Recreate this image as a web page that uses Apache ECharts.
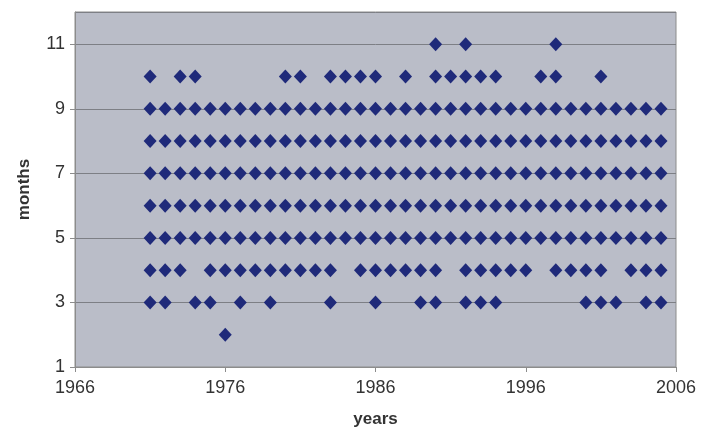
<!DOCTYPE html>
<html><head><meta charset="utf-8">
<script src="https://cdn.jsdelivr.net/npm/echarts@6/dist/echarts.min.js"></script>
<style>html,body{margin:0;padding:0;background:#fff}#c{width:704px;height:434px}</style>
</head><body><div id="c"></div>
<script>
const yearsMonth2 = [1976];
const yearsMonth3 = [1971,1972,1974,1975,1977,1979,1983,1986,1989,1990,1992,1993,1994,2000,2001,2002,2004,2005];
const yearsMonth4 = [1971,1972,1973,1975,1976,1977,1978,1979,1980,1981,1982,1983,1985,1986,1987,1988,1989,1990,1992,1993,1994,1995,1996,1998,1999,2000,2001,2003,2004,2005];
const allYears = [1971,1972,1973,1974,1975,1976,1977,1978,1979,1980,1981,1982,1983,1984,1985,1986,1987,1988,1989,1990,1991,1992,1993,1994,1995,1996,1997,1998,1999,2000,2001,2002,2003,2004,2005];
const yearsMonth5 = allYears, yearsMonth6 = allYears, yearsMonth7 = allYears, yearsMonth8 = allYears, yearsMonth9 = allYears;
const yearsMonth10 = [1971,1973,1974,1980,1981,1983,1984,1985,1986,1988,1990,1991,1992,1993,1994,1997,1998,2001];
const yearsMonth11 = [1990,1992,1998];
const rows = [[2,yearsMonth2],[3,yearsMonth3],[4,yearsMonth4],[5,yearsMonth5],[6,yearsMonth6],[7,yearsMonth7],[8,yearsMonth8],[9,yearsMonth9],[10,yearsMonth10],[11,yearsMonth11]];
const points = [];
rows.forEach(([m, ys]) => ys.forEach(y => points.push([y, m])));

const chart = echarts.init(document.getElementById('c'), null, {renderer:'canvas'});
const font = 'Liberation Sans, Arial, sans-serif';
chart.setOption({
  animation:false,
  grid:{left:75,right:28,top:12,bottom:67,show:true,backgroundColor:'#babdc8',borderColor:'#8c8c8c',borderWidth:1},
  xAxis:{type:'value',min:1966,max:2006,interval:10,name:'years',nameLocation:'middle',nameGap:44,
    nameTextStyle:{fontFamily:font,fontSize:17,fontWeight:'bold',color:'#333'},
    axisLine:{lineStyle:{color:'#8c8c8c'}},axisTick:{show:true,length:5,lineStyle:{color:'#8c8c8c'}},
    axisLabel:{fontFamily:font,fontSize:18,color:'#333',margin:12,showMinLabel:true,showMaxLabel:true,formatter:v=>String(v)},
    splitLine:{show:false}},
  yAxis:{type:'value',min:1,max:12,interval:2,name:'months',nameLocation:'middle',nameGap:42,nameRotate:90,
    nameTextStyle:{fontFamily:font,fontSize:17,fontWeight:'bold',color:'#333'},
    axisLine:{show:true,lineStyle:{color:'#8c8c8c'}},axisTick:{show:true,length:5,lineStyle:{color:'#8c8c8c'}},
    axisLabel:{fontFamily:font,fontSize:18,color:'#333',margin:10,showMaxLabel:false},
    splitLine:{show:true,lineStyle:{color:'#7d7f85',width:1}}},
  series:[{type:'scatter',data:points,symbol:'diamond',symbolSize:[13,14],
    itemStyle:{color:'#1f2a7a',opacity:1}}]
});
</script></body></html>
